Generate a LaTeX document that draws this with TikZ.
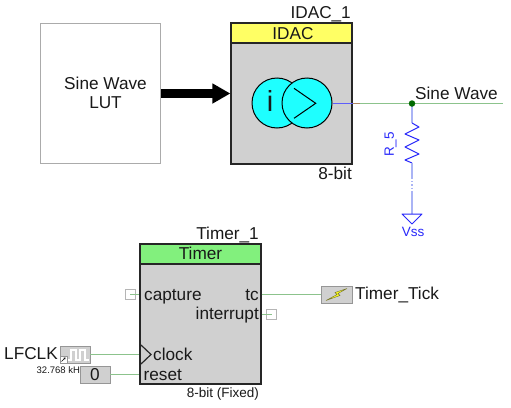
\documentclass[tikz,border=0pt]{standalone}
\usepackage{fontspec}
\setmainfont{Liberation Sans}
\usetikzlibrary{arrows.meta}
\definecolor{blockgray}{RGB}{208,208,208}
\definecolor{wiregreen}{RGB}{140,195,140}
\definecolor{schemblue}{RGB}{40,40,250}
\definecolor{lightblue}{RGB}{170,180,245}
\definecolor{cyanfill}{RGB}{30,255,255}
\definecolor{yellowhead}{RGB}{255,255,100}
\definecolor{greenhead}{RGB}{130,240,125}
\definecolor{junction}{RGB}{0,105,0}
\definecolor{edgegray}{RGB}{150,150,150}
\definecolor{boltyellow}{RGB}{250,250,30}
\definecolor{boltedge}{RGB}{110,110,50}
\tikzset{
  x=1pt,y=-1pt,
  lab/.style={inner sep=0pt,text height=12.2pt,text depth=0pt,font=\fontsize{17.2}{18}\selectfont,text=black!90},
  smalllab/.style={inner sep=0pt,text height=9.7pt,text depth=0pt,font=\fontsize{13.5}{15}\selectfont,text=black!90},
  blue lab/.style={inner sep=0pt,text height=9.7pt,text depth=0pt,font=\fontsize{13.5}{15}\selectfont,text=schemblue},
  block/.style={draw=black!85,line width=1.2pt,fill=blockgray,inner sep=0pt},
  header/.style={draw=black!85,line width=1.2pt,inner sep=0pt},
  terminal/.style={draw=edgegray,line width=0.6pt,fill=blockgray,inner sep=0pt},
  openpin/.style={draw=edgegray!70,line width=0.6pt,fill=white,inner sep=0pt,minimum width=10pt,minimum height=10pt},
  wire/.style={draw=wiregreen,line width=0.8pt},
  circ/.style={circle,draw=black,line width=1pt,fill=cyanfill,minimum size=50pt,inner sep=0pt},
}
\begin{document}
\begin{tikzpicture}
\useasboundingbox (0,0) rectangle (511,407);
% LUT
\node[draw=edgegray!80,line width=0.7pt,fill=white,minimum width=120.5pt,minimum height=140pt,inner sep=0pt] (lut) at (100.5,93.5) {};
\node[lab] (lut1) at (105.5,83) {Sine Wave};
\node[lab] (lut2) at (105.5,102) {LUT};
% IDAC
\node[block,minimum width=121pt,minimum height=141pt] (idac) at (291.5,93.5) {};
\node[header,fill=yellowhead,minimum width=121pt,minimum height=20pt] (idachead) at (291.5,33) {};
\node[lab] at (293,33) {IDAC};
\node[lab,anchor=east] (idacname) at (351,12.7) {IDAC\_1};
\node[lab,anchor=east] (idacbits) at (352,173) {8-bit};
\node[circ] (ci) at (277,103) {};
\node[inner sep=0pt,font=\fontsize{29}{29}\selectfont,text=black!90] at (270,100.5) {i};
\node[circ] (cg) at (307,103) {};
\draw[line width=1pt] (294,88.3) -- (315.7,103.3) -- (294,118.3);
\draw[-{Triangle[length=18pt,width=19pt]},line width=9.5pt,black] (lut.east |- 0,93.5) -- (idac.west |- 0,93.5);
% Wires
\coordinate (jn) at (412,103.5);
\coordinate (sineout) at (503,103.5);
\coordinate (rtop) at (412,123);
\coordinate (rbot) at (412,163);
\coordinate (gnd) at (412,214);
\draw[schemblue!75,line width=0.8pt] (cg.east) -- (idac.east |- cg.east);
\draw[red!30!wiregreen,line width=0.8pt] (idac.east |- jn) -- ++(8,0);
\draw[wire] (360,103.5) -- (jn) -- (sineout);
\draw[lightblue,line width=1.2pt] (jn) -- (rtop);
\draw[schemblue,line width=1pt,line join=round] (rtop) -- (419,127) -- (405,134) -- (419,140) -- (405,147) -- (419,154) -- (405,160) -- (412,163);
\draw[lightblue,line width=1.2pt] (rbot) -- (412,178);
\draw[lightblue,line width=1.2pt,dotted] (412,178) -- (412,192);
\draw[lightblue,line width=1.2pt] (412,192) -- (gnd);
\node[fill=junction,circle,minimum size=6.5pt,inner sep=0pt] (dot) at (jn) {};
\node[lab,anchor=west] (sinelab) at (415,93.3) {Sine Wave};
\node[blue lab,rotate=90] (rlab) at (389,144.5) {R\_5};
\draw[schemblue,line width=1pt,line join=round] (402,214) -- (422,214) -- (412,224) -- cycle;
\node[blue lab] (vss) at (413,232) {Vss};
% Timer
\node[block,minimum width=121pt,minimum height=140pt] (timer) at (200.5,314) {};
\node[header,fill=greenhead,minimum width=121pt,minimum height=20pt] (timerhead) at (200.5,254) {};
\node[lab] at (200.5,253.8) {Timer};
\node[lab,anchor=east] (timername) at (259,233.7) {Timer\_1};
\node[smalllab,anchor=east] (timerbits) at (259,393) {8-bit (Fixed)};
\node[lab,anchor=west] at (144,294) {capture};
\node[lab,anchor=east] at (259,294) {tc};
\node[lab,anchor=east] at (259,313.5) {interrupt};
\node[lab,anchor=west] at (153,354) {clock};
\node[lab,anchor=west] at (143.5,374) {reset};
\draw[black!85,line width=1.2pt,fill=blockgray,line join=miter] (141,345) -- (151,354.5) -- (141,364);
% Pins
\node[openpin] (cappin) at (130,294.5) {};
\node[openpin] (intpin) at (271.5,314.5) {};
\draw[wire] (cappin.center) -- (timer.west |- cappin);
\draw[wire] (timer.east |- intpin) -- (intpin.center);
% Tick
\node[terminal,minimum width=31pt,minimum height=17pt] (tick) at (336.5,294.5) {};
\fill[boltyellow,draw=boltedge,line width=0.4pt] (347,288.5) -- (335,292.5) -- (337,294.5) -- (326,300.5) -- (340,295.5) -- (338,293.5) -- cycle;
\node[lab,anchor=west] (ticklab) at (355,293.7) {Timer\_Tick};
\draw[wire] (timer.east |- tick) -- (tick.west);
% Clock
\node[lab,anchor=west] (lfclk) at (4,353.7) {LFCLK};
\node[terminal,minimum width=30pt,minimum height=17pt] (clk) at (75,354.5) {};
\draw[white,line width=2pt] (66,359.5) -- (70.7,359.5) -- (70.7,349.5) -- (75.7,349.5) -- (75.7,359.5) -- (80,359.5) -- (80,349.5) -- (85,349.5) -- (85,359.5) -- (88.5,359.5);
\node[draw=edgegray,line width=0.5pt,fill=white,minimum width=7pt,minimum height=7pt,inner sep=0pt] (clkicon) at (63.5,359.5) {};
\draw[-{Stealth[length=2pt,width=2.5pt]},line width=0.6pt,black] (61.5,361.5) -- (65.5,357.5);
\node[inner sep=0pt,font=\fontsize{9.5}{10}\selectfont,text=black!90,anchor=west] (freq) at (36.5,370) {32.768 kHz};
\node[terminal,minimum width=30pt,minimum height=17pt] (zero) at (95,374.5) {};
\node[lab] at (95,374.5) {0};
\draw[wire] (clk.east) -- (timer.west |- clk);
\draw[wire] (zero.east) -- (timer.west |- zero);
\end{tikzpicture}
\end{document}
